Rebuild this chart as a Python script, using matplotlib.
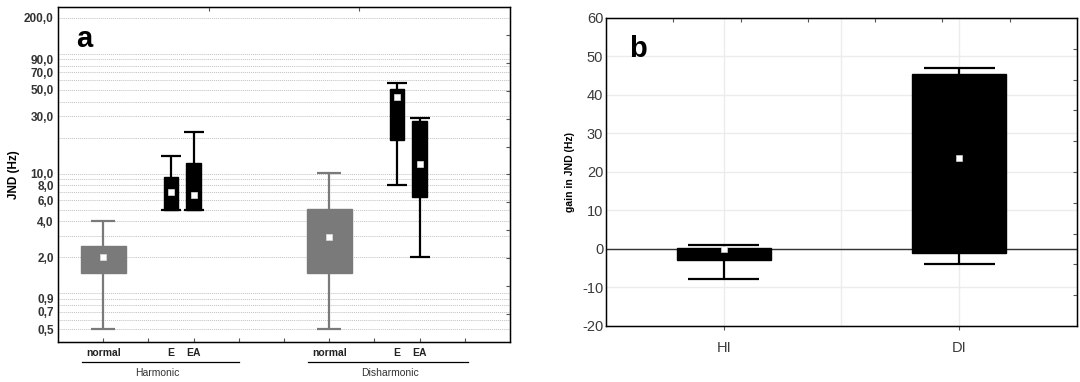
import numpy as np
import matplotlib
matplotlib.use("Agg")
from matplotlib import pyplot as plt
from matplotlib.ticker import FixedLocator, NullFormatter

plt.rcParams['font.family'] = ['Liberation Sans', 'DejaVu Sans']
plt.rcParams['axes.unicode_minus'] = False

# ---- panel a data (JND, Hz) ----
pos_a = [1, 2.5, 3, 6, 7.5, 8]
box_lo = [1.47, 5.0, 5.0, 1.47, 19.1, 6.4]
box_hi = [2.47, 9.3, 12.2, 5.05, 50.9, 27.5]
wh_lo = [0.5, 5.0, 5.0, 0.5, 8.0, 2.0]
wh_hi = [4.0, 14.0, 22.2, 10.1, 57.0, 29.1]
mid_a = [2.0, 7.0, 6.6, 2.95, 43.6, 12.0]
cols_a = ['#7a7a7a', 'black', 'black', '#7a7a7a', 'black', 'black']
width_a = [1.0, 0.33, 0.33, 1.0, 0.33, 0.33]
cat_labels = ['normal', 'E', 'EA', 'normal', 'E', 'EA']
groups = ['Harmonic', 'Disharmonic']
group_x = [2.2, 7.35]
group_span = [(0.53, 4.0), (5.53, 9.07)]
ytick_vals = [200, 90, 70, 50, 30, 10, 8, 6, 4, 2, 0.9, 0.7, 0.5]
ytick_labels = ['200,0', '90,0', '70,0', '50,0', '30,0', '10,0', '8,0', '6,0',
                '4,0', '2,0', '0,9', '0,7', '0,5']

# ---- panel b data (gain in JND, Hz) ----
cats_b = ['HI', 'DI']
box_lo_b = [-2.9, -1.0]
box_hi_b = [0.3, 45.5]
wh_lo_b = [-7.8, -4.0]
wh_hi_b = [1.0, 47.0]
mid_b = [0.0, 23.6]

fig = plt.figure(figsize=(10.8, 3.82), dpi=100)

# ================= panel a =================
ax = fig.add_axes([0.0537, 0.1047, 0.4185, 0.877])
ax.set_yscale('log')
ax.set_ylim(0.39, 247)
ax.set_xlim(0, 10)

grid_vals = [m * 10.0 ** e for e in (-1, 0, 1, 2) for m in range(1, 10)]
grid_vals = [g for g in grid_vals if 0.5 <= g <= 200]
for g in grid_vals:
    ax.axhline(g, color='#c0c0c0', linestyle=(0, (1, 1)), linewidth=0.7, zorder=0)

for i in range(len(pos_a)):
    x = pos_a[i]
    c = cols_a[i]
    cap = 0.27 if width_a[i] > 0.5 else 0.22
    ax.vlines(x, wh_lo[i], wh_hi[i], color=c, linewidth=1.6, zorder=2)
    ax.hlines([wh_lo[i], wh_hi[i]], x - cap, x + cap, color=c, linewidth=1.6, zorder=2)
    ax.bar(x, box_hi[i] - box_lo[i], bottom=box_lo[i], width=width_a[i],
           color=c, edgecolor=c, zorder=3)
    ax.plot(x, mid_a[i], 's', color='white', markersize=4.5, zorder=4,
            markeredgecolor='#dddddd', markeredgewidth=0.5)

ax.yaxis.set_major_locator(FixedLocator(ytick_vals))
ax.set_yticklabels(ytick_labels)
ax.yaxis.set_minor_formatter(NullFormatter())
ax.yaxis.set_minor_locator(FixedLocator([]))
ax.tick_params(axis='y', length=0, labelsize=8.5, labelcolor='#333333', pad=3)
for t in ax.get_yticklabels():
    t.set_fontweight('bold')
ax.set_xticks(range(1, 10))
ax.set_xticklabels([])
ax.tick_params(axis='x', direction='in', length=3, color='#555555')
ax.set_ylabel('JND (Hz)', fontsize=8.5, fontweight='bold', labelpad=3)

for s in ax.spines.values():
    s.set_color('#333333')
    s.set_linewidth(1.0)

# right / top decorative ticks
axr = ax.twinx()
axr.set_ylim(0, 1)
axr.set_yticks(np.arange(1, 12) / 12.0)
axr.set_yticklabels([])
axr.tick_params(axis='y', direction='in', length=3, color='#555555')
axt = ax.twiny()
axt.set_xlim(0, 1)
axt.set_xticks([1 / 3.0, 2 / 3.0])
axt.set_xticklabels([])
axt.tick_params(axis='x', direction='in', length=3, color='#555555')

trans = ax.get_xaxis_transform()
for x, lab in zip(pos_a, cat_labels):
    ax.text(x, -0.033, lab, transform=trans, ha='center', va='center',
            fontsize=7.5, fontweight='bold', color='#222222')
for gx, gl, (x0, x1) in zip(group_x, groups, group_span):
    ax.plot([x0, x1], [-0.060, -0.060], transform=trans, color='black',
            linewidth=0.9, clip_on=False)
    ax.text(gx, -0.093, gl, transform=trans, ha='center', va='center',
            fontsize=7.5, color='#333333')

ax.text(0.04, 0.905, 'a', transform=ax.transAxes, fontsize=21,
        fontweight='bold', ha='left', va='center')

# ================= panel b =================
bx = fig.add_axes([0.5611, 0.1466, 0.4361, 0.8063])
xb = np.arange(1, len(cats_b) + 1)
bx.set_xlim(0.5, 2.5)
bx.set_ylim(-20, 60)
for g in range(-10, 60, 10):
    bx.axhline(g, color='#ececec', linewidth=1.0, zorder=0)
for g in [1, 1.5, 2]:
    bx.axvline(g, color='#ececec', linewidth=1.0, zorder=0)
bx.axhline(0, color='#333333', linewidth=1.0, zorder=1)

for i in range(len(cats_b)):
    x = xb[i]
    bx.vlines(x, wh_lo_b[i], wh_hi_b[i], color='black', linewidth=1.6, zorder=2)
    bx.hlines([wh_lo_b[i], wh_hi_b[i]], x - 0.15, x + 0.15, color='black',
              linewidth=1.6, zorder=2)
    bx.bar(x, box_hi_b[i] - box_lo_b[i], bottom=box_lo_b[i], width=0.4,
           color='black', edgecolor='black', zorder=3)
    bx.plot(x, mid_b[i], 's', color='white', markersize=4.5, zorder=4,
            markeredgecolor='#cccccc', markeredgewidth=0.5)

bx.set_xticks(xb)
bx.set_xticklabels(cats_b)
bx.set_yticks(range(-20, 61, 10))
bx.tick_params(axis='both', labelsize=10.5, labelcolor='#3a3a3a', length=3,
               color='#555555')
bx.tick_params(axis='y', length=0, pad=2)
bx.tick_params(axis='x', pad=8)
bx.set_ylabel('gain in JND (Hz)', fontsize=7.5, fontweight='bold', labelpad=5)
for s in bx.spines.values():
    s.set_color('#333333')
    s.set_linewidth(1.0)

bxr = bx.twinx()
bxr.set_ylim(0, 1)
bxr.set_yticks(np.arange(1, 10) / 10.0)
bxr.set_yticklabels([])
bxr.tick_params(axis='y', direction='in', length=3, color='#555555')
bxt = bx.twiny()
bxt.set_xlim(0, 1)
bxt.set_xticks(np.arange(1, 7) / 7.0)
bxt.set_xticklabels([])
bxt.tick_params(axis='x', direction='in', length=3, color='#555555')

bx.text(0.05, 0.9, 'b', transform=bx.transAxes, fontsize=21,
        fontweight='bold', ha='left', va='center')

fig.savefig('out.png', dpi=100)
